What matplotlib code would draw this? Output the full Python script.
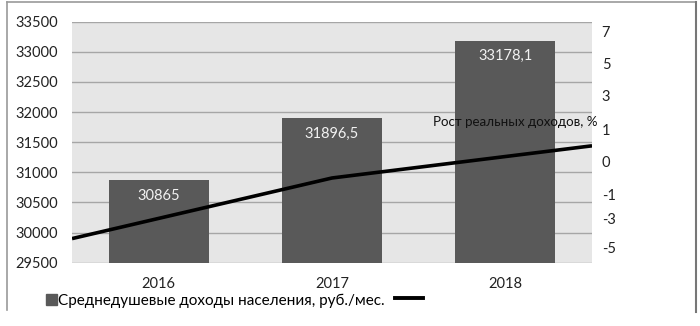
import numpy as np
import matplotlib
matplotlib.use('Agg')
import matplotlib.pyplot as plt
from matplotlib.patches import Rectangle
from matplotlib.lines import Line2D

# ---- data ----
years = ['2016', '2017', '2018']
income = [30865, 31896.5, 33178.1]
income_labels = ['30865', '31896,5', '33178,1']
real_growth = [-4.4, -0.5, 0.5]
left_ticks = [29500, 30000, 30500, 31000, 31500, 32000, 32500, 33000, 33500]
right_tick_values = [-5, -3, -1, 0, 1, 3, 5, 7]
right_tick_labels = ['-5', '-3', '-1', '0', '1', '3', '5', '7']
bar_legend = 'Среднедушевые доходы населения, руб./мес.'
line_label = 'Рост реальных доходов, %'

# uneven secondary scale of the original (axis-fraction position of each tick value)
right_tick_pos = [0.064, 0.184, 0.284, 0.419, 0.551, 0.692, 0.827, 0.959]
scale_vals = [-6.07] + right_tick_values + [7.62]
scale_pos = [0.0] + right_tick_pos + [1.0]

def fwd(v):
    return np.interp(v, scale_vals, scale_pos)

def inv(p):
    return np.interp(p, scale_pos, scale_vals)

FONT = 'Lato'
plt.rcParams['font.family'] = [FONT, 'DejaVu Sans']

fig = plt.figure(figsize=(7.0, 3.26), dpi=100)
rect = [72/700, 1-262.7/326, (592-72)/700, (262.7-21.7)/326]

ax = fig.add_axes(rect)
ax.set_facecolor('#e6e6e6')
x = np.arange(len(years))
bars = ax.bar(x, income, width=0.577, color='#595959', zorder=2)
ax.set_xlim(-0.5, len(years)-0.5)
ax.set_ylim(left_ticks[0], left_ticks[-1])
ax.set_yticks(left_ticks)
ax.set_yticklabels([str(t) for t in left_ticks])
ax.set_xticks(x)
ax.set_xticklabels(years)
ax.grid(axis='y', color='#a6a6a6', linewidth=1.0, zorder=1)
for s in ax.spines.values():
    s.set_visible(False)
ax.tick_params(axis='both', length=0, labelsize=10.5, colors='#222222')
ax.tick_params(axis='y', pad=10)
ax.tick_params(axis='x', pad=10)
for b, lab in zip(bars, income_labels):
    ax.annotate(lab, (b.get_x()+b.get_width()/2, b.get_height()),
                xytext=(0, -11), textcoords='offset points',
                ha='center', va='center', color='#f2f2f2', fontsize=10.5)

# secondary axes for the line (category axis "on tick marks")
ax2 = fig.add_axes(rect)
ax2.patch.set_visible(False)
for s in ax2.spines.values():
    s.set_visible(False)
ax2.set_yscale('function', functions=(fwd, inv))
xi = np.arange(len(years))
ax2.plot(xi, real_growth, color='black', linewidth=2.6, solid_capstyle='butt', zorder=3)
ax2.set_xlim(0, len(years)-1)
ax2.set_ylim(scale_vals[0], scale_vals[-1])
ax2.set_xticks([])
ax2.yaxis.tick_right()
ax2.set_yticks(right_tick_values)
ax2.set_yticklabels(right_tick_labels)
ax2.yaxis.set_minor_locator(matplotlib.ticker.NullLocator())
ax2.tick_params(axis='y', length=0, labelsize=10.5, colors='#222222', pad=7)
ax2.annotate(line_label, (len(years)-1, real_growth[-1]), xytext=(4, 17),
             textcoords='offset points', ha='right', va='center',
             fontsize=9.6, color='#111111')

# legend (two parts: bar swatch with text, then unlabeled line sample)
leg1 = fig.legend([Rectangle((0, 0), 1, 1, color='#595959')], [bar_legend],
                  frameon=False, loc='center left',
                  bbox_to_anchor=(46/700, 1-301/326),
                  fontsize=11, handlelength=0.7, handleheight=0.7,
                  handletextpad=0.1, borderpad=0, borderaxespad=0)
leg2 = fig.legend([Line2D([0], [0], color='black', linewidth=2.8)], [''],
                  frameon=False, loc='center left',
                  bbox_to_anchor=(395/700, 1-299/326),
                  fontsize=11, handlelength=1.8, handletextpad=0,
                  borderpad=0, borderaxespad=0)

# outer frame
fig.add_artist(Line2D([7/700, 7/700], [1-2/326, 1-310/326], color='#9a9a9a', linewidth=1.2))
fig.add_artist(Line2D([7/700, 696/700], [1-2/326, 1-2/326], color='#9a9a9a', linewidth=1.2))
fig.add_artist(Line2D([696/700, 696/700], [1-2/326, 1-312/326], color='#777777', linewidth=1.5))

fig.savefig('out.png', dpi=100)
